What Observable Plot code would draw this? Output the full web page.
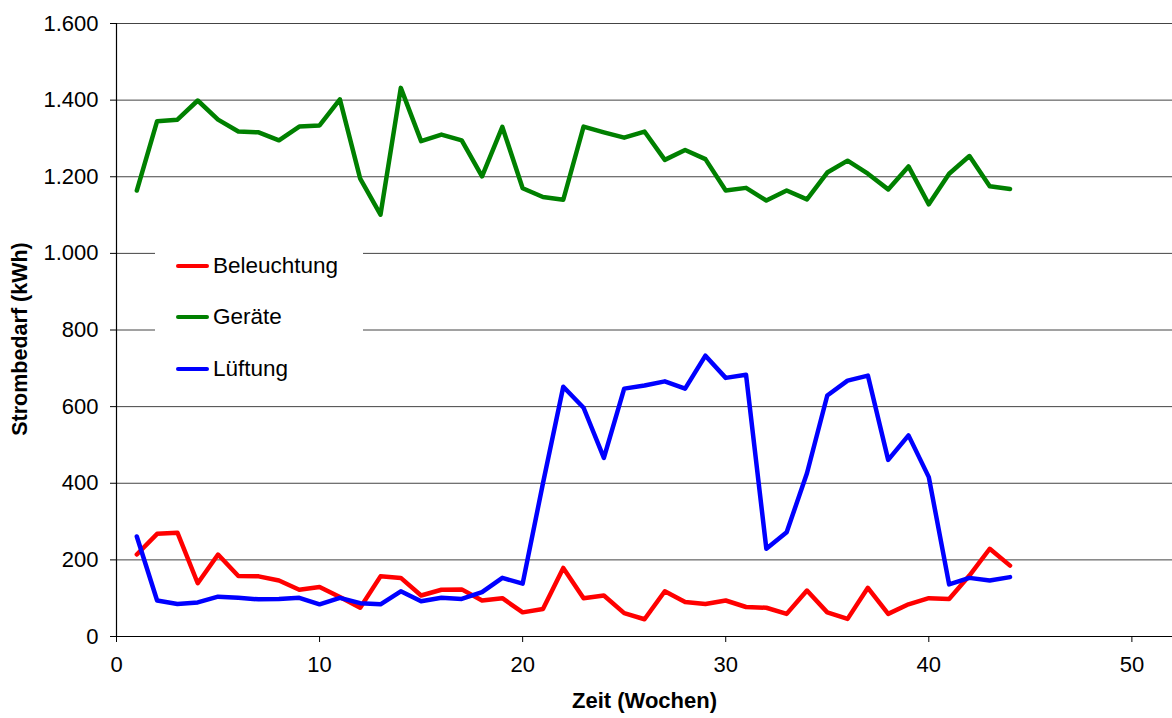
<!DOCTYPE html>
<html>
<head>
<meta charset="utf-8">
<script src="https://cdn.jsdelivr.net/npm/d3@7"></script>
<script src="https://cdn.jsdelivr.net/npm/@observablehq/plot@0.6"></script>
<style>
  body { margin: 0; background: #fff; }
  #wrap { position: relative; width: 1172px; height: 718px; font-family: "Liberation Sans", Arial, sans-serif; }
  #legend { position: absolute; left: 155px; top: 238px; width: 208px; height: 158px; background: #fff; }
  .item { position: absolute; left: 21px; height: 26px; display: flex; align-items: center; font-size: 22.5px; color: #000; }
  .sw { width: 33px; height: 4px; border-radius: 2px; margin-right: 4px; }
</style>
</head>
<body>
<div id="wrap"><div id="legend"></div></div>
<script>
const weeks = [1,2,3,4,5,6,7,8,9,10,11,12,13,14,15,16,17,18,19,20,21,22,23,24,25,26,27,28,29,30,31,32,33,34,35,36,37,38,39,40,41,42,43,44];
const beleuchtung = [214,268,271,139,214,158,157,146,122,129,103,75,157,153,107,122,123,94,100,63,72,179,100,107,61,45,118,90,85,94,77,75,59,120,63,46,127,59,84,100,98,159,229,185];
const geraete = [1164,1345,1349,1399,1349,1318,1316,1295,1331,1334,1402,1195,1101,1432,1293,1310,1295,1201,1330,1170,1147,1140,1331,1316,1302,1318,1244,1270,1246,1164,1171,1138,1164,1141,1211,1242,1208,1167,1227,1128,1208,1254,1175,1168];
const lueftung = [261,94,85,89,104,101,97,98,101,84,101,87,84,118,92,101,98,116,153,138,400,652,597,466,647,655,666,647,733,675,683,229,272,426,629,668,681,461,525,416,136,153,146,155];
const seriesNames = ["Beleuchtung", "Geräte", "Lüftung"];
const seriesColors = ["#ff0000", "#008000", "#0000ff"];
const xTicks = [0,10,20,30,40,50];
const yTicks = [0,200,400,600,800,1000,1200,1400,1600];
const xLabel = "Zeit (Wochen)";
const yLabel = "Strombedarf (kWh)";

const fmt = d3.formatLocale({decimal: ",", thousands: ".", grouping: [3], currency: ["", "€"]}).format(",d");
const seriesValues = [beleuchtung, geraete, lueftung];
const rows = [];
seriesNames.forEach((name, s) => weeks.forEach((w, i) => rows.push({week: w, value: seriesValues[s][i], series: name})));

const chart = Plot.plot({
  width: 1172, height: 718,
  marginLeft: 116, marginRight: 0, marginTop: 23, marginBottom: 82,
  style: {fontFamily: "'Liberation Sans', Arial, sans-serif", fontSize: "22px", background: "#fff", color: "#000", overflow: "visible"},
  x: {domain: [0, 52], ticks: xTicks, tickSize: 6, tickPadding: 14, label: null},
  y: {domain: [0, 1600], ticks: yTicks, tickSize: 6, tickPadding: 12, tickFormat: fmt, label: null},
  color: {domain: seriesNames, range: seriesColors},
  marks: [
    Plot.ruleY(yTicks, {stroke: "#444", strokeWidth: 1}),
    Plot.ruleX([0], {stroke: "#000", strokeWidth: 1.2}),
    Plot.ruleY([0], {stroke: "#000", strokeWidth: 1.2}),
    Plot.line(rows, {x: "week", y: "value", z: "series", stroke: "series", strokeWidth: 4.5}),
    Plot.text([xLabel], {frameAnchor: "bottom", dy: 71, fontWeight: "bold", fontSize: 22}),
    Plot.text([yLabel], {frameAnchor: "left", dx: -96, dy: 9, rotate: -90, textAnchor: "middle", fontWeight: "bold", fontSize: 21.5})
  ]
});
document.getElementById("wrap").prepend(chart);

const legend = document.getElementById("legend");
const legendTops = [15, 66, 118];
seriesNames.forEach((name, i) => {
  const it = document.createElement("div");
  it.className = "item";
  it.style.top = legendTops[i] + "px";
  const sw = document.createElement("span");
  sw.className = "sw";
  sw.style.background = seriesColors[i];
  const tx = document.createElement("span");
  tx.textContent = name;
  it.append(sw, tx);
  legend.append(it);
});
</script>
</body>
</html>
